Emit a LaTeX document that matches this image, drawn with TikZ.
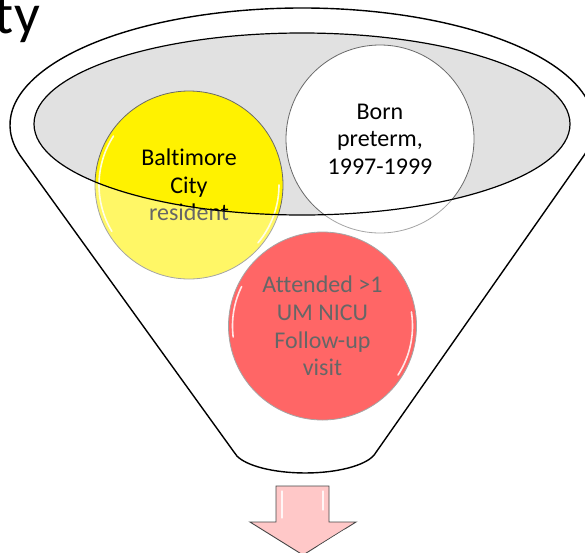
\documentclass[tikz,border=0pt]{standalone}
\usepackage{fontspec}
\setmainfont{Carlito}[Ligatures=NoCommon]
\definecolor{rimgray}{RGB}{225,225,225}
\definecolor{circout}{RGB}{105,105,105}
\definecolor{arrowpink}{RGB}{255,200,200}
\definecolor{arrowline}{RGB}{70,70,70}
\tikzset{
  bubble/.style={circle, draw=circout, line width=0.8pt, minimum size=188pt,
    inner sep=0pt, align=center, font=\fontsize{24}{27.6}\selectfont},
  gloss/.style={draw=white, line width=1.6pt, draw opacity=0.85, line cap=round},
  funnelline/.style={draw=black, line width=1.4pt, line join=round},
  rimline/.style={draw=black, line width=1.2pt},
  downarrow/.style={fill=arrowpink, draw=arrowline, line width=0.9pt, line join=miter}
}
\begin{document}
\begin{tikzpicture}[x=1pt,y=-1pt]
\useasboundingbox (0,0) rectangle (585,552);
\clip (0,0) rectangle (585,552);
% rim interior
\fill[rimgray] (302,124) ellipse[x radius=268, y radius=91];
% circles
\node[bubble, fill=yellow] (city) at (189,185) {Baltimore\\City\\resident};
\node[bubble, fill=white] (preterm) at (380,139) {Born\\preterm,\\1997-1999};
\node[bubble, fill=red] (visit) at (322.5,326) {Attended >1\\UM NICU\\Follow-up\\visit};
% glossy highlights
\draw[gloss] ([shift={(149:90)}]city.center) arc[start angle=149, end angle=213, radius=90];
\draw[gloss] ([shift={(0:90)}]city.center) arc[start angle=0, end angle=40, radius=90];
\draw[gloss] ([shift={(173:90)}]visit.center) arc[start angle=173, end angle=206, radius=90];
\draw[gloss] ([shift={(-9:90)}]visit.center) arc[start angle=-9, end angle=33, radius=90];
% translucent funnel body
\fill[white, fill opacity=0.4, even odd rule]
  (20,155.3) arc[start angle=165, end angle=375, x radius=292, y radius=117]
  -- (376,452.3) arc[start angle=10, end angle=170, x radius=72, y radius=25] -- cycle
  (302,124) ellipse[x radius=268, y radius=91];
% outlines
\draw[rimline] (302,124) ellipse[x radius=268, y radius=91];
\draw[funnelline]
  (20,155.3) arc[start angle=165, end angle=375, x radius=292, y radius=117]
  -- (376,452.3) arc[start angle=10, end angle=170, x radius=72, y radius=25] -- cycle;
% output arrow
\draw[downarrow] (276,486) -- (329,486) -- (329,522) -- (356,522) -- (303,555)
  -- (250,522) -- (276,522) -- cycle;
\draw[gloss, line width=1.2pt] (282,491) -- (282,518);
\draw[gloss, line width=1.2pt] (323,491) -- (323,510);
\draw[gloss, line width=1.2pt] (345,530) -- (318,547);
% clipped title fragment
\node[anchor=base east, inner sep=0pt, font=\fontsize{57}{64}\selectfont] (title) at (40,33) {ty};
\end{tikzpicture}
\end{document}
